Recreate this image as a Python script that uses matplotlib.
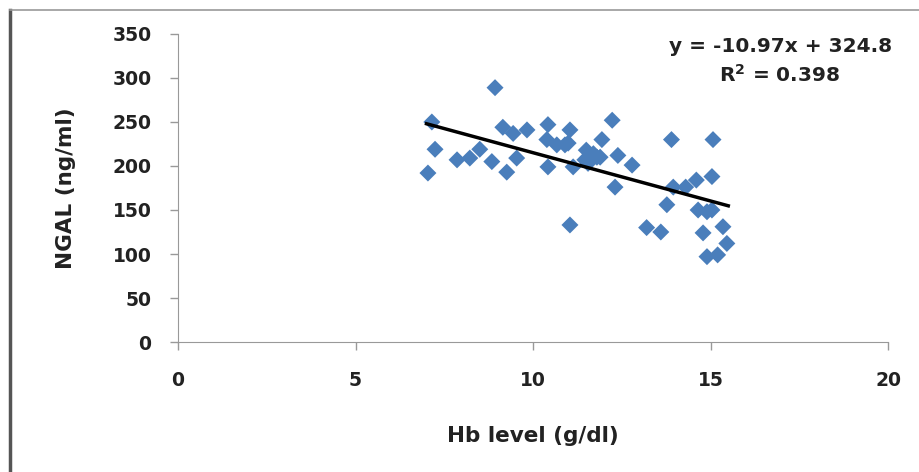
import matplotlib.pyplot as plt
from matplotlib.lines import Line2D

# Hb level (g/dl) vs NGAL (ng/ml)
hb = [7.04, 7.15, 7.24, 7.86, 8.22, 8.5, 8.84, 8.93, 9.15, 9.26, 9.44, 9.54,
      9.83, 10.39, 10.42, 10.42, 10.67, 10.9, 10.99, 11.04, 11.13, 11.04,
      11.46, 11.5, 11.6, 11.8, 11.89, 11.94, 12.23, 12.31, 12.39, 12.79,
      13.2, 13.6, 13.77, 13.9, 13.95, 14.3, 14.6, 14.65, 14.79, 14.9, 14.9,
      15.04, 15.04, 15.07, 15.2, 15.35, 15.46, 11.7, 11.55]
ngal = [192, 250, 219, 207, 209, 219, 205, 289, 244, 193, 237, 209,
        241, 230, 247, 199, 224, 224, 226, 241, 199, 133,
        207, 218, 207, 210, 210, 230, 252, 176, 212, 201,
        130, 125, 156, 230, 176, 176, 184, 150, 124, 148, 97,
        188, 150, 230, 99, 131, 112, 214, 203]

slope, intercept = -10.97, 324.8
fit_x = [7.0, 15.5]
fit_y = [slope * v + intercept for v in fit_x]

plt.rcParams['font.family'] = ['DejaVu Sans']
plt.rcParams['font.weight'] = 'bold'

fig = plt.figure(figsize=(9.19, 4.72), dpi=100)
ax = fig.add_axes([0.1937, 0.2754, 0.7726, 0.6526])

ax.scatter(hb, ngal, marker='D', s=75, color='#4a7ebb', edgecolors='none', zorder=3)
ax.plot(fit_x, fit_y, color='black', lw=2.5, zorder=4)

ax.set_xlim(0, 20)
ax.set_ylim(0, 350)
ax.set_xticks([0, 5, 10, 15, 20])
ax.set_yticks(range(0, 351, 50))
ax.tick_params(axis='both', labelsize=13.5, labelcolor='#222222', length=6,
               width=1, color='#999999')
ax.tick_params(axis='y', pad=13)
ax.tick_params(axis='x', pad=15)
for t in ax.get_xticklabels() + ax.get_yticklabels():
    t.set_fontweight('bold')

for side in ['top', 'right']:
    ax.spines[side].set_visible(False)
for side in ['left', 'bottom']:
    ax.spines[side].set_color('#999999')

ax.set_xlabel('Hb level (g/dl)', fontsize=15.5, fontweight='bold',
              labelpad=26, color='#222222')
ax.set_ylabel('NGAL (ng/ml)', fontsize=15.5, fontweight='bold',
              labelpad=26, color='#222222')

ax.text(0.848, 0.99, 'y = -10.97x + 324.8\nR$^2$ = 0.398', transform=ax.transAxes,
        ha='center', va='top', fontsize=14.5, fontweight='bold',
        linespacing=1.45, color='#222222')

# frame lines of the original picture
fig.add_artist(Line2D([10 / 919, 10 / 919], [0, 1 - 10 / 472],
                      transform=fig.transFigure, color='#555555', lw=2.5))
fig.add_artist(Line2D([10 / 919, 1], [1 - 10 / 472, 1 - 10 / 472],
                      transform=fig.transFigure, color='#999999', lw=1.2))

fig.savefig('out.png', dpi=100)
